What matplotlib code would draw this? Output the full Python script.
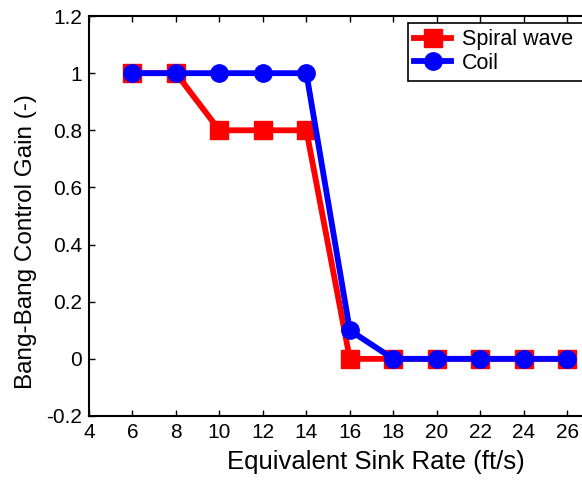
import matplotlib
matplotlib.use('Agg')
import matplotlib.pyplot as plt
import matplotlib.patches as patches

sink_rate = [6, 8, 10, 12, 14, 16, 18, 20, 22, 24, 26]
spiral_wave = [1, 1, 0.8, 0.8, 0.8, 0, 0, 0, 0, 0, 0]
coil = [1, 1, 1, 1, 1, 0.1, 0, 0, 0, 0, 0]
x_ticks = [4, 6, 8, 10, 12, 14, 16, 18, 20, 22, 24, 26]
y_ticks = [-0.2, 0, 0.2, 0.4, 0.6, 0.8, 1, 1.2]
y_labels = ['-0.2', '0', '0.2', '0.4', '0.6', '0.8', '1', '1.2']

plt.rcParams['font.family'] = ['Liberation Sans', 'DejaVu Sans']

W, H = 582, 484
fig = plt.figure(figsize=(W / 100, H / 100), dpi=100)
# axes run slightly past the right edge, as in the cropped original
ax = fig.add_axes([0.1529, 0.1405, 0.859, 0.8264])

ax.plot(sink_rate, spiral_wave, color='#ff0000', linewidth=4.2, marker='s',
        markersize=12.5, label='Spiral wave')
ax.plot(sink_rate, coil, color='#0000ff', linewidth=4.2, marker='o',
        markersize=12.5, label='Coil')

ax.set_xlim(4, 27)
ax.set_ylim(-0.2, 1.2)
ax.set_xticks(x_ticks)
ax.set_yticks(y_ticks)
ax.set_yticklabels(y_labels)
ax.tick_params(direction='in', top=True, right=True, length=4, width=1,
               labelsize=15, pad=5)
for s in ax.spines.values():
    s.set_linewidth(1.5)

ax.set_xlabel('Equivalent Sink Rate (ft/s)', fontsize=18.5)
ax.set_ylabel('Bang-Bang Control Gain (-)', fontsize=17.5)
ax.xaxis.set_label_coords(0.574, -0.085)
ax.yaxis.set_label_coords(-0.104, 0.435)

# legend box is cut off by the right edge in the original
box = patches.Rectangle((408 / W, 1 - 81 / H), 200 / W, 58 / H,
                        transform=fig.transFigure, facecolor='white',
                        edgecolor='black', linewidth=1.2, clip_on=False,
                        zorder=4)
fig.add_artist(box)
handles, labels = ax.get_legend_handles_labels()
leg = fig.legend(handles, labels, loc='upper left',
                 bbox_to_anchor=(408 / W, 1 - 23 / H), fontsize=15.5,
                 frameon=False, borderpad=0.3, handlelength=1.7,
                 handletextpad=0.5, labelspacing=0.1, borderaxespad=0)
leg.set_zorder(5)

fig.savefig('out.png', dpi=100)
